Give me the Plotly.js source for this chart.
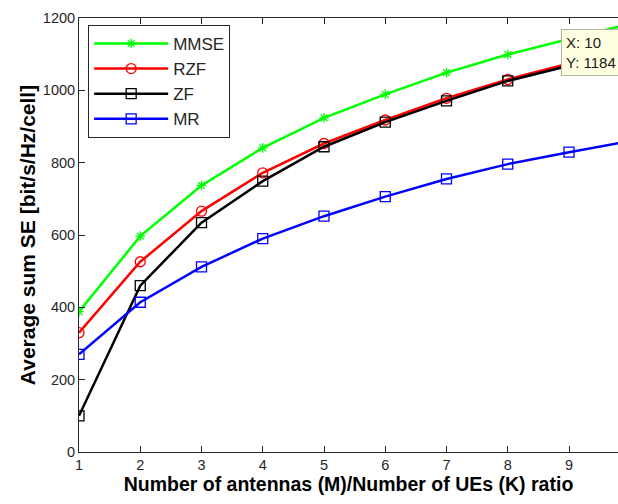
<!DOCTYPE html>
<html>
<head>
<meta charset="utf-8">
<script src="https://cdn.plot.ly/plotly-3.0.1.min.js"></script>
<style>
  html, body { margin: 0; padding: 0; overflow: hidden; background: #ffffff; }
  #chart { width: 618px; height: 504px; }
</style>
</head>
<body>
<div id="chart"></div>
<script>
// Antenna-to-UE ratio M/K
const ratio = [1, 2, 3, 4, 5, 6, 7, 8, 9, 10];

// Average sum spectral efficiency per scheme [bit/s/Hz/cell]
const seMMSE = [388, 597, 737, 841, 924, 989, 1049, 1099, 1142, 1184];
const seRZF  = [330, 526, 666, 772, 853, 918, 978, 1030, 1074, 1114];
const seZF   = [100, 460, 634, 749, 844, 912, 971, 1026, 1068, 1106];
const seMR   = [270, 414, 512, 590, 652, 706, 755, 796, 829, 860];

const schemeNames = ['MMSE', 'RZF', 'ZF', 'MR'];
const xTicks = [1, 2, 3, 4, 5, 6, 7, 8, 9, 10];
const yTicks = [0, 200, 400, 600, 800, 1000, 1200];

const FONT = 'Liberation Sans, Arial, Helvetica, sans-serif';

function series(name, y, color, symbol, size) {
  return {
    type: 'scatter',
    mode: 'lines+markers',
    name: name,
    x: ratio,
    y: y,
    line: { color: color, width: 2.5 },
    marker: {
      symbol: symbol,
      size: size,
      color: color,
      line: { color: color, width: 1.3 }
    },
    cliponaxis: true
  };
}

const traces = [
  series(schemeNames[0], seMMSE, '#00ff00', 'asterisk-open', 8),
  series(schemeNames[1], seRZF,  '#ff0000', 'circle-open', 10),
  series(schemeNames[2], seZF,   '#000000', 'square-open', 10),
  series(schemeNames[3], seMR,   '#0000ff', 'square-open', 10)
];

// Data cursor on the last MMSE point
const tipX = ratio[ratio.length - 1];
const tipY = seMMSE[seMMSE.length - 1];

const layout = {
  width: 618,
  height: 504,
  margin: { l: 79, r: 0, t: 18, b: 52, pad: 0 },
  paper_bgcolor: '#ffffff',
  plot_bgcolor: '#ffffff',
  font: { family: FONT, size: 14, color: '#262626' },
  showlegend: true,
  legend: {
    x: 0.017, y: 0.984, xanchor: 'left', yanchor: 'top',
    bgcolor: '#ffffff',
    bordercolor: '#262626',
    borderwidth: 1,
    font: { family: FONT, size: 17, color: '#262626' },
    itemwidth: 74,
    tracegroupgap: 0
  },
  xaxis: {
    range: [1, 9.8],
    tickvals: xTicks,
    ticks: 'inside',
    ticklen: 6,
    tickwidth: 1,
    tickcolor: '#262626',
    showline: true,
    linecolor: '#262626',
    linewidth: 1,
    mirror: 'ticks',
    showgrid: false,
    zeroline: false,
    tickfont: { family: FONT, size: 14.5, color: '#262626' },
    title: {
      text: 'Number of antennas (M)/Number of UEs (K) ratio',
      font: { family: FONT, size: 19.5, color: '#000000', weight: 'bold' },
      standoff: 4
    }
  },
  yaxis: {
    range: [0, 1200],
    tickvals: yTicks,
    ticks: 'inside',
    ticklen: 6,
    tickwidth: 1,
    tickcolor: '#262626',
    showline: true,
    linecolor: '#262626',
    linewidth: 1,
    mirror: false,
    showgrid: false,
    zeroline: false,
    tickfont: { family: FONT, size: 14.5, color: '#262626' },
    title: {
      text: 'Average sum SE [bit/s/Hz/cell]',
      font: { family: FONT, size: 21, color: '#000000', weight: 'bold' },
      standoff: 1
    }
  },
  annotations: [{
    xref: 'paper', yref: 'paper',
    x: 0.894, y: 0.975,
    xanchor: 'left', yanchor: 'top',
    showarrow: false,
    align: 'left',
    text: 'X: ' + tipX + '<br>Y: ' + tipY,
    font: { family: FONT, size: 15, color: '#1a1a1a' },
    bgcolor: '#ffffe1',
    bordercolor: '#b4b4a0',
    borderwidth: 1,
    borderpad: 4
  }]
};

Plotly.newPlot('chart', traces, layout, { displayModeBar: false, staticPlot: true });
</script>
</body>
</html>
